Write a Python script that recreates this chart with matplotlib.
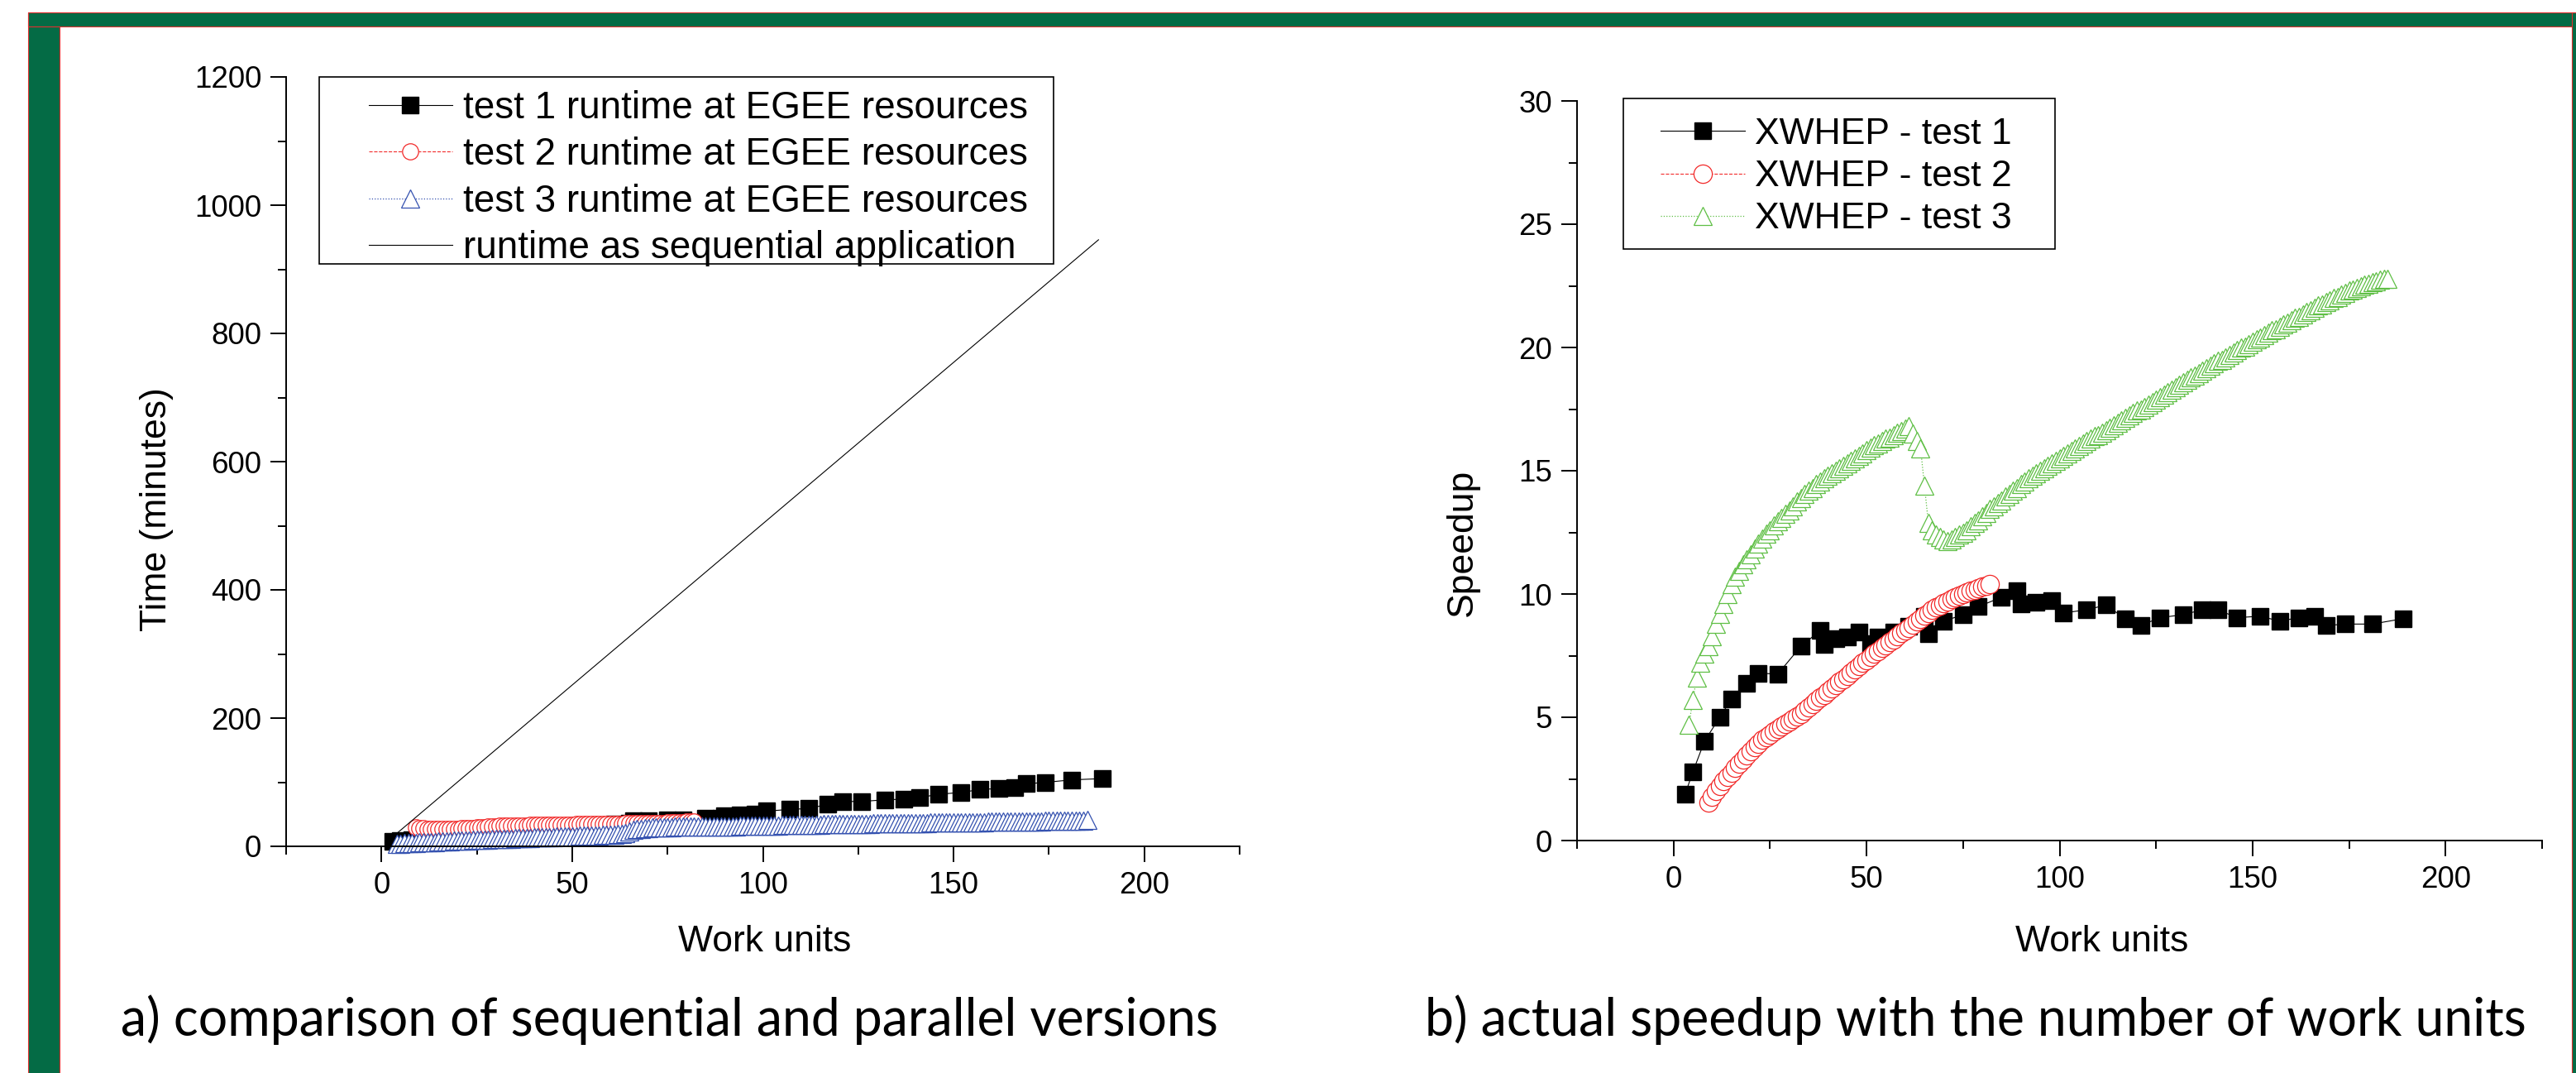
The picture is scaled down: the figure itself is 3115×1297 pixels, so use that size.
import matplotlib
matplotlib.use("Agg")
import matplotlib.pyplot as plt
from matplotlib.patches import Rectangle
from matplotlib.ticker import MultipleLocator

plt.rcParams['font.family'] = ['Liberation Sans', 'DejaVu Sans']

W, H = 3115, 1297

def fx(px):
    return px / W

def fy(py):
    return 1 - py / H

# ---- data -------------------------------------------------------------
# test 1 (same work-unit counts in both panels)
t1_x = [3, 5, 8, 12, 15, 19, 22, 27, 33, 38, 39, 42, 45, 48, 51, 53, 57, 61, 65, 66,
        70, 75, 79, 85, 89, 90, 94, 98, 101, 107, 112, 117, 121, 126, 132, 137, 141,
        146, 152, 157, 162, 166, 169, 174, 181, 189]
t1_time = [8.0, 9.0, 10.0, 12.0, 13.2, 15.0, 16.3, 20.1, 21.1, 22.4, 24.7, 25.8, 27.4,
           28.5, 32.1, 32.3, 33.9, 35.3, 35.9, 39.5, 39.6, 41.2, 41.9, 43.3, 44.2, 47.2,
           48.8, 50.6, 55.0, 57.5, 59.0, 65.4, 69.8, 70.1, 72.5, 73.6, 75.8, 81.2, 84.0,
           88.7, 90.1, 91.8, 97.5, 99.7, 103.7, 105.6]
t1_speedup = [1.88, 2.78, 4.02, 5.01, 5.73, 6.38, 6.79, 6.75, 7.88, 8.52, 7.94, 8.2, 8.26,
              8.46, 8.0, 8.26, 8.46, 8.7, 9.1, 8.4, 8.9, 9.16, 9.49, 9.87, 10.13, 9.6,
              9.68, 9.74, 9.23, 9.36, 9.55, 9.0, 8.72, 9.04, 9.16, 9.36, 9.36, 9.04, 9.1,
              8.9, 9.04, 9.1, 8.72, 8.78, 8.78, 9.0]

# test 2: work units 9..82
t2_x = list(range(9, 83))
t2_time = [29.2, 28.3, 27.8, 27.4, 27.3, 27.3, 27.3, 27.4, 27.4, 27.4, 27.5, 27.7, 27.9,
           28.1, 28.5, 28.7, 29.2, 29.6, 30.0, 30.4, 30.8, 31.3, 31.7, 32.1, 32.2, 32.3,
           32.4, 32.5, 32.5, 32.8, 33.0, 33.2, 33.3, 33.4, 33.5, 33.6, 33.7, 33.8, 33.9,
           34.0, 34.0, 34.1, 34.2, 34.3, 34.4, 34.5, 34.6, 34.7, 34.8, 34.9, 35.0, 35.1,
           35.2, 35.3, 35.4, 35.5, 35.6, 35.6, 35.7, 35.8, 35.9, 36.0, 36.1, 36.3, 36.5,
           36.6, 36.9, 37.1, 37.3, 37.6, 37.9, 38.2, 38.5, 39.1]
t2_speedup = [1.55, 1.78, 2.0, 2.2, 2.4, 2.58, 2.76, 2.94, 3.12, 3.3, 3.47, 3.63, 3.79,
              3.94, 4.08, 4.2, 4.31, 4.42, 4.52, 4.62, 4.72, 4.82, 4.92, 5.02, 5.15, 5.28,
              5.41, 5.54, 5.67, 5.8, 5.92, 6.04, 6.17, 6.3, 6.43, 6.56, 6.69, 6.81, 6.94,
              7.07, 7.2, 7.33, 7.45, 7.57, 7.69, 7.81, 7.93, 8.05, 8.17, 8.29, 8.41, 8.52,
              8.64, 8.76, 8.88, 9.0, 9.12, 9.24, 9.35, 9.45, 9.54, 9.63, 9.71, 9.79, 9.87,
              9.94, 10.0, 10.06, 10.12, 10.18, 10.24, 10.29, 10.34, 10.39]

# test 3: work units 4..185
t3_x = list(range(4, 186))
t3_time = [4.3, 4.4, 4.6, 4.9, 5.3, 5.7, 6.1, 6.3, 6.6, 6.8, 7.0, 7.3, 7.5, 7.8, 8.1,
           8.4, 8.7, 8.9, 9.2, 9.4, 9.7, 10.0, 10.2, 10.5, 10.7, 11.0, 11.3, 11.5, 11.7,
           11.9, 12.2, 12.4, 12.7, 12.9, 13.1, 13.3, 13.6, 13.8, 14.1, 14.3, 14.6, 14.8,
           15.0, 15.3, 15.5, 15.7, 15.9, 16.1, 16.3, 16.6, 16.8, 17.0, 17.2, 17.4, 17.6,
           17.9, 18.1, 18.3, 18.9, 19.6, 20.2, 22.7, 25.7, 26.7, 27.6, 28.2, 28.9, 29.4,
           29.7, 29.9, 30.0, 30.2, 30.3, 30.4, 30.4, 30.6, 30.6, 30.6, 30.7, 30.8, 30.8,
           31.0, 31.0, 31.1, 31.2, 31.3, 31.3, 31.5, 31.5, 31.6, 31.7, 31.9, 32.0, 32.1,
           32.2, 32.3, 32.5, 32.6, 32.7, 32.8, 32.9, 33.0, 33.1, 33.2, 33.3, 33.4, 33.6,
           33.7, 33.8, 33.9, 34.0, 34.1, 34.2, 34.3, 34.4, 34.5, 34.6, 34.8, 34.9, 35.0,
           35.0, 35.1, 35.2, 35.3, 35.4, 35.5, 35.5, 35.6, 35.7, 35.8, 35.9, 36.0, 36.1,
           36.2, 36.2, 36.3, 36.4, 36.5, 36.6, 36.7, 36.8, 36.8, 36.9, 37.0, 37.1, 37.2,
           37.3, 37.3, 37.5, 37.5, 37.6, 37.7, 37.8, 37.9, 37.9, 38.1, 38.1, 38.2, 38.3,
           38.4, 38.5, 38.6, 38.7, 38.7, 38.9, 38.9, 39.0, 39.1, 39.2, 39.3, 39.4, 39.5,
           39.6, 39.7, 39.8, 39.9, 40.1, 40.2, 40.3, 40.5, 40.6, 40.8]
t3_speedup = [4.7, 5.7, 6.6, 7.2, 7.6, 7.9, 8.3, 8.8, 9.2, 9.6, 10.0, 10.4, 10.7, 10.95,
              11.2, 11.4, 11.6, 11.85, 12.05, 12.25, 12.45, 12.6, 12.8, 12.95, 13.1, 13.25,
              13.4, 13.55, 13.75, 13.9, 14.05, 14.2, 14.3, 14.45, 14.55, 14.7, 14.8, 14.9,
              15.0, 15.1, 15.2, 15.3, 15.4, 15.5, 15.6, 15.7, 15.85, 15.95, 16.05, 16.1,
              16.2, 16.3, 16.35, 16.45, 16.55, 16.6, 16.7, 16.8, 16.5, 16.2, 15.9, 14.4,
              12.9, 12.6, 12.4, 12.3, 12.2, 12.15, 12.2, 12.3, 12.4, 12.5, 12.6, 12.75,
              12.9, 13.0, 13.15, 13.3, 13.45, 13.55, 13.7, 13.8, 13.95, 14.05, 14.2, 14.3,
              14.45, 14.55, 14.7, 14.8, 14.9, 15.0, 15.1, 15.2, 15.3, 15.4, 15.5, 15.6,
              15.7, 15.8, 15.9, 16.0, 16.1, 16.2, 16.3, 16.4, 16.45, 16.55, 16.65, 16.75,
              16.85, 16.95, 17.05, 17.15, 17.25, 17.35, 17.45, 17.5, 17.6, 17.7, 17.8,
              17.9, 18.0, 18.1, 18.2, 18.3, 18.4, 18.5, 18.6, 18.7, 18.8, 18.85, 18.95,
              19.05, 19.15, 19.25, 19.35, 19.45, 19.5, 19.6, 19.7, 19.8, 19.9, 20.0, 20.05,
              20.15, 20.25, 20.35, 20.4, 20.5, 20.6, 20.7, 20.75, 20.85, 20.95, 21.0, 21.1,
              21.2, 21.25, 21.35, 21.45, 21.5, 21.6, 21.7, 21.75, 21.85, 21.9, 22.0, 22.05,
              22.15, 22.2, 22.3, 22.35, 22.4, 22.5, 22.55, 22.6, 22.65, 22.7, 22.75, 22.8,
              22.8]

# sequential run
seq_x = [2, 188]
seq_time = [10, 946]

left_labels = ['test 1 runtime at EGEE resources', 'test 2 runtime at EGEE resources',
               'test 3 runtime at EGEE resources', 'runtime as sequential application']
right_labels = ['XWHEP - test 1', 'XWHEP - test 2', 'XWHEP - test 3']

RED = '#f22a2a'
BLUE = '#3552b0'
GREEN = '#5fbf45'
FRAME = '#046b45'

fig = plt.figure(figsize=(W / 100, H / 100), dpi=100)

# green frame around the slide
for (x0, y0, x1, y1) in [(34, 15, 72, H + 5), (34, 15, W + 5, 32), (3110, 15, W + 5, H + 5)]:
    fig.patches.append(Rectangle((fx(x0), fy(y1)), fx(x1) - fx(x0), fy(y0) - fy(y1),
                                 transform=fig.transFigure, facecolor=FRAME,
                                 edgecolor='#e03030', linewidth=0.8, zorder=0))

ax1 = fig.add_axes([fx(346), fy(1023), fx(1499) - fx(346), fy(93) - fy(1023)])
ax2 = fig.add_axes([fx(1907), fy(1016), fx(3074) - fx(1907), fy(122) - fy(1016)])


def style_axis(ax, ymax, ymajor, yminor):
    ax.set_xlim(-25, 225)
    ax.set_ylim(0, ymax)
    for s in ['top', 'right']:
        ax.spines[s].set_visible(False)
    for s in ['left', 'bottom']:
        ax.spines[s].set_linewidth(1.4)
    ax.xaxis.set_major_locator(MultipleLocator(50))
    ax.xaxis.set_minor_locator(MultipleLocator(25))
    ax.yaxis.set_major_locator(MultipleLocator(ymajor))
    ax.yaxis.set_minor_locator(MultipleLocator(yminor))
    ax.tick_params(which='major', direction='out', length=13.5, width=1.4,
                   labelsize=26.5, pad=8)
    ax.tick_params(which='minor', direction='out', length=7, width=1.4)
    ax.set_facecolor('none')


# ---- left: runtimes ----------------------------------------------------
style_axis(ax1, 1200, 200, 100)
h1, = ax1.plot(t1_x, t1_time, '-', color='black', lw=0.8, marker='s', ms=14.5,
               mfc='black', mec='black', clip_on=False)
h2, = ax1.plot(t2_x, t2_time, '--', color=RED, lw=0.8, marker='o', ms=14,
               mfc='white', mec=RED, mew=0.9, clip_on=False)
h3, = ax1.plot(t3_x, t3_time, ':', color=BLUE, lw=0.9, marker='^', ms=16.5,
               mfc='white', mec=BLUE, mew=0.9, clip_on=False)
h4, = ax1.plot(seq_x, seq_time, '-', color='black', lw=0.8)

ax1.legend([h1, h2, h3, h4], left_labels, loc='upper left',
           bbox_to_anchor=(fx(446), fy(109)), bbox_transform=fig.transFigure,
           frameon=False, fontsize=33, handlelength=2.2, handletextpad=0.28,
           labelspacing=0.27, borderpad=0, borderaxespad=0)
fig.patches.append(Rectangle((fx(386), fy(319)), fx(1274) - fx(386), fy(93) - fy(319),
                             transform=fig.transFigure, facecolor='none',
                             edgecolor='black', linewidth=1.2))

# ---- right: speedup ----------------------------------------------------
style_axis(ax2, 30, 5, 2.5)
g1, = ax2.plot(t1_x, t1_speedup, '-', color='black', lw=0.8, marker='s', ms=15,
               mfc='black', mec='black')
g2, = ax2.plot(t2_x, t2_speedup, '--', color=RED, lw=0.8, marker='o', ms=16,
               mfc='white', mec=RED, mew=0.9)
g3, = ax2.plot(t3_x, t3_speedup, ':', color=GREEN, lw=0.9, marker='^', ms=16.5,
               mfc='white', mec=GREEN, mew=0.9)

ax2.legend([g1, g2, g3], right_labels, loc='upper left',
           bbox_to_anchor=(fx(2008), fy(142)), bbox_transform=fig.transFigure,
           frameon=False, fontsize=32, handlelength=2.3, handletextpad=0.27,
           labelspacing=0.23, borderpad=0, borderaxespad=0)
fig.patches.append(Rectangle((fx(1963), fy(301)), fx(2485) - fx(1963), fy(119) - fy(301),
                             transform=fig.transFigure, facecolor='none',
                             edgecolor='black', linewidth=1.2))

# ---- axis titles and captions -------------------------------------------
fig.text(fx(925), fy(1150), 'Work units', fontsize=32, ha='center', va='baseline')
fig.text(fx(2542), fy(1150), 'Work units', fontsize=32, ha='center', va='baseline')
fig.text(fx(190), fy(616), 'Time (minutes)', fontsize=32, rotation=90,
         ha='center', va='center')
fig.text(fx(1768), fy(656), 'Speedup', fontsize=32, rotation=90,
         ha='center', va='center')

fig.text(fx(146), fy(1252), 'a) comparison of sequential and parallel versions',
         fontsize=45, family=['Lato', 'DejaVu Sans'], ha='left', va='baseline')
fig.text(fx(1723), fy(1252), 'b) actual speedup with the number of work units',
         fontsize=45, family=['Lato', 'DejaVu Sans'], ha='left', va='baseline')

fig.savefig('out.png', dpi=100, facecolor='white')
